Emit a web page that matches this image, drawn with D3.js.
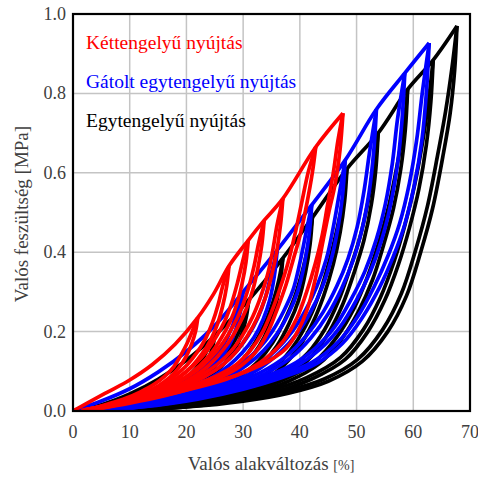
<!DOCTYPE html>
<html>
<head>
<meta charset="utf-8">
<script src="https://cdn.jsdelivr.net/npm/d3@7"></script>
<style>
  body { margin: 0; background: #fff; }
</style>
</head>
<body>
<svg id="chart" width="478" height="477"></svg>
<script>
(function() {
    'use strict';

    var serif = "'Liberation Serif'";

    var xTicks = [0, 10, 20, 30, 40, 50, 60, 70];
    var yTicks = [0.0, 0.2, 0.4, 0.6, 0.8, 1.0];

    var seriesNames = ["Kéttengelyű nyújtás", "Gátolt egytengelyű nyújtás", "Egytengelyű nyújtás"];
    var seriesColors = ["#ff0000", "#0000ff", "#000000"];

    // virgin loading curves [strain %, stress MPa]
    var blackEnvelope = [[0,0],[5,0.016],[10,0.043],[15,0.08],[20,0.128],[25,0.19],[31,0.28],[37,0.385],[42.2,0.487],[48.3,0.61],[53.8,0.70],[59,0.81],[63.5,0.884],[67.7,0.97]];
    var blueEnvelope = [[0,0],[5,0.025],[10,0.056],[15,0.098],[20,0.15],[25,0.215],[30,0.3],[36,0.405],[42.1,0.519],[48,0.632],[53.5,0.76],[58.5,0.851],[62.8,0.927]];
    var redEnvelope = [[0,0],[2.5,0.02],[6,0.047],[10,0.078],[14,0.117],[18,0.168],[22,0.235],[24.8,0.295],[27.5,0.365],[30.9,0.43],[33.7,0.48],[37,0.535],[42.8,0.665],[47.6,0.75]];

    // unloading curves, one per cycle peak
    var blackUnload = [
        [[25,0.19],[24.6,0.16],[23.8,0.13],[22.4,0.1],[20.5,0.075],[18,0.053],[15,0.035],[11.5,0.02],[7.5,0.009],[3.5,0.002]],
        [[31,0.28],[30.6,0.24],[29.8,0.195],[28.5,0.155],[26.7,0.12],[24.5,0.09],[21.8,0.063],[18.5,0.042],[14.5,0.025],[10,0.012],[5,0.003]],
        [[37,0.385],[36.6,0.33],[35.8,0.27],[34.6,0.215],[32.9,0.165],[30.8,0.125],[28.3,0.09],[25.3,0.063],[21.5,0.04],[17,0.022],[11,0.008],[5,0.001]],
        [[42.2,0.487],[41.8,0.42],[41,0.35],[39.8,0.28],[38.1,0.22],[36,0.165],[33.5,0.12],[30.5,0.085],[27,0.055],[22.5,0.033],[17,0.016],[10,0.004]],
        [[48.3,0.61],[47.9,0.53],[47.1,0.45],[45.9,0.37],[44.2,0.29],[42.2,0.22],[39.8,0.16],[36.8,0.11],[33,0.072],[28.5,0.045],[23,0.025],[16,0.01],[9,0.002]],
        [[53.8,0.70],[53.4,0.61],[52.6,0.52],[51.3,0.43],[49.6,0.35],[47.6,0.27],[45.2,0.2],[42.2,0.14],[38.5,0.095],[33.5,0.06],[27.5,0.033],[20,0.014],[12,0.003]],
        [[59,0.81],[58.6,0.71],[57.8,0.61],[56.5,0.51],[54.8,0.42],[52.8,0.33],[50.3,0.25],[47.3,0.18],[43.5,0.12],[38,0.075],[31,0.04],[24,0.02],[15,0.006],[8,0.001]],
        [[63.5,0.884],[63.1,0.78],[62.3,0.67],[61,0.56],[59.3,0.46],[57.4,0.37],[55,0.28],[52,0.2],[48,0.13],[42,0.08],[35,0.045],[27,0.022],[18,0.008],[10,0.002]],
        [[67.7,0.97],[67.3,0.86],[66.5,0.75],[65.2,0.64],[63.4,0.51],[61.3,0.40],[58.8,0.29],[55.5,0.2],[51,0.125],[45,0.075],[38,0.045],[30,0.025],[20,0.01],[10,0.002]]
    ];
    // reloading curves, from the bottom back up to each peak
    var blackReload = [
        [[3.5,0.002],[7,0.01],[11,0.022],[14.5,0.038],[17.3,0.057],[19.7,0.08],[21.6,0.106],[23,0.135],[24,0.163],[25,0.19]],
        [[5,0.003],[9.5,0.014],[14,0.028],[17.8,0.046],[21,0.068],[23.7,0.096],[25.9,0.126],[27.8,0.16],[29.3,0.2],[30.3,0.24],[31,0.28]],
        [[5,0.001],[10.5,0.01],[16.5,0.025],[21,0.044],[24.6,0.068],[27.5,0.096],[30,0.131],[32.1,0.172],[33.9,0.222],[35.3,0.276],[36.3,0.33],[37,0.385]],
        [[10,0.004],[16.5,0.018],[22,0.036],[26.3,0.06],[29.7,0.09],[32.7,0.126],[35.2,0.172],[37.3,0.228],[39.1,0.288],[40.5,0.356],[41.5,0.42],[42.2,0.487]],
        [[9,0.002],[15.5,0.012],[22.5,0.028],[28,0.049],[32.3,0.076],[36,0.115],[39,0.166],[41.5,0.228],[43.5,0.298],[45.2,0.378],[46.5,0.455],[47.6,0.532],[48.3,0.61]],
        [[12,0.003],[19.5,0.016],[27,0.036],[32.8,0.064],[37.7,0.1],[41.4,0.146],[44.4,0.206],[46.8,0.277],[48.8,0.357],[50.6,0.438],[52,0.525],[53.1,0.612],[53.8,0.70]],
        [[8,0.001],[14.5,0.008],[23.5,0.023],[30.3,0.043],[37.2,0.079],[42.7,0.125],[46.5,0.186],[49.5,0.257],[51.9,0.337],[54,0.428],[55.7,0.518],[57.1,0.615],[58.3,0.712],[59,0.81]],
        [[10,0.002],[17.5,0.01],[26.3,0.025],[34.2,0.049],[41.2,0.084],[47.2,0.135],[51.2,0.205],[54.2,0.286],[56.6,0.376],[58.5,0.467],[60.2,0.567],[61.6,0.674],[62.7,0.782],[63.5,0.884]],
        [[10,0.002],[19.5,0.012],[29.3,0.028],[37.2,0.049],[44.2,0.08],[50.2,0.13],[54.6,0.205],[57.9,0.296],[60.4,0.405],[62.5,0.516],[64.3,0.645],[65.7,0.755],[66.8,0.862],[67.7,0.97]]
    ];

    var blueUnload = [
        [[30,0.3],[29.5,0.25],[28.7,0.205],[27.5,0.165],[25.9,0.132],[23.9,0.104],[21.5,0.08],[18.5,0.058],[15,0.038],[10.5,0.02],[5.5,0.007],[1.5,0.001]],
        [[36,0.405],[35.5,0.34],[34.7,0.28],[33.5,0.23],[31.9,0.185],[29.9,0.148],[27.5,0.115],[24.5,0.085],[21,0.06],[16.5,0.038],[11,0.018],[5,0.004]],
        [[42.1,0.519],[41.6,0.44],[40.8,0.37],[39.6,0.3],[38,0.245],[36,0.195],[33.6,0.152],[30.6,0.115],[27,0.083],[22.5,0.056],[17,0.033],[10.5,0.013],[4,0.002]],
        [[48,0.632],[47.5,0.54],[46.7,0.46],[45.5,0.38],[43.9,0.31],[41.9,0.25],[39.5,0.195],[36.5,0.148],[33,0.108],[28.5,0.075],[23,0.048],[16.5,0.026],[9,0.008]],
        [[53.5,0.76],[53,0.65],[52.2,0.55],[51,0.46],[49.4,0.38],[47.4,0.31],[45,0.245],[42,0.185],[38.5,0.135],[34,0.095],[28.5,0.063],[22,0.037],[14,0.015],[6,0.002]],
        [[58.5,0.851],[58,0.73],[57.2,0.62],[56,0.52],[54.4,0.43],[52.4,0.35],[50,0.28],[47,0.21],[43.5,0.155],[39,0.11],[33,0.075],[26,0.045],[18,0.022],[9,0.005]],
        [[62.8,0.927],[62.3,0.8],[61.5,0.68],[60.2,0.57],[58.5,0.47],[56.5,0.39],[54,0.31],[51,0.235],[47.5,0.17],[43,0.12],[37,0.085],[30,0.055],[22,0.03],[12,0.01],[4,0.001]]
    ];
    var blueReload = [
        [[1.5,0.001],[5,0.008],[10,0.022],[14.3,0.041],[17.7,0.062],[20.6,0.085],[23,0.11],[25,0.138],[26.7,0.171],[28,0.21],[29,0.254],[30,0.3]],
        [[5,0.004],[10.4,0.02],[15.8,0.041],[20.2,0.064],[23.7,0.09],[26.7,0.12],[29,0.153],[30.9,0.19],[32.6,0.235],[33.9,0.285],[34.9,0.343],[36,0.405]],
        [[4,0.002],[10,0.015],[16.3,0.036],[21.7,0.06],[26.2,0.088],[29.8,0.12],[32.8,0.158],[35.1,0.2],[37.1,0.25],[38.8,0.305],[40,0.373],[41,0.443],[42.1,0.519]],
        [[9,0.008],[15.8,0.028],[22.2,0.051],[27.7,0.079],[32.2,0.112],[35.7,0.152],[38.6,0.199],[41,0.254],[43,0.314],[44.7,0.384],[45.9,0.463],[46.9,0.543],[48,0.632]],
        [[6,0.002],[13.3,0.017],[21.2,0.04],[27.7,0.066],[33.2,0.098],[37.6,0.138],[41.1,0.189],[44.1,0.249],[46.5,0.314],[48.5,0.384],[50.1,0.463],[51.3,0.553],[52.3,0.653],[53.5,0.76]],
        [[9,0.005],[17.2,0.024],[25.2,0.048],[32.2,0.078],[38.2,0.113],[42.7,0.158],[46.2,0.213],[49.1,0.283],[51.5,0.353],[53.5,0.433],[55.1,0.523],[56.3,0.623],[57.2,0.733],[58.5,0.851]],
        [[4,0.001],[11.2,0.012],[21.2,0.033],[29.2,0.058],[36.2,0.088],[42.2,0.123],[46.7,0.173],[50.2,0.238],[53.1,0.313],[55.6,0.393],[57.6,0.473],[59.3,0.573],[60.6,0.683],[61.6,0.803],[62.8,0.927]]
    ];

    var redUnload = [
        [[22,0.235],[21.6,0.2],[20.9,0.168],[19.9,0.136],[18.6,0.108],[17,0.084],[15,0.063],[12.6,0.045],[9.8,0.029],[6.6,0.016],[3.2,0.005]],
        [[27.5,0.365],[27.1,0.315],[26.4,0.265],[25.5,0.22],[24.3,0.18],[22.8,0.145],[21,0.113],[18.9,0.086],[16.4,0.063],[13.4,0.043],[9.9,0.026],[5.9,0.011],[1.9,0.002]],
        [[30.9,0.43],[30.5,0.375],[29.8,0.32],[28.9,0.27],[27.7,0.225],[26.2,0.185],[24.5,0.148],[22.4,0.115],[20,0.087],[17,0.062],[13.5,0.04],[9.5,0.022],[5,0.008],[1.5,0.001]],
        [[33.7,0.48],[33.3,0.42],[32.6,0.36],[31.7,0.305],[30.5,0.255],[29,0.21],[27.3,0.17],[25.2,0.133],[22.7,0.1],[19.7,0.073],[16,0.05],[11.5,0.03],[6.5,0.013],[2,0.002]],
        [[37,0.535],[36.6,0.47],[35.9,0.4],[35,0.34],[33.9,0.285],[32.5,0.235],[30.8,0.19],[28.8,0.15],[26.3,0.115],[23.3,0.087],[19.5,0.062],[15,0.04],[10,0.022],[4.5,0.006]],
        [[42.8,0.665],[42.2,0.6],[41.2,0.52],[40,0.44],[38.8,0.38],[37.6,0.32],[36.1,0.26],[34.4,0.2],[32.3,0.15],[29.5,0.113],[26,0.085],[21.5,0.06],[16,0.038],[10,0.02],[4,0.005]],
        [[47.6,0.75],[47.1,0.66],[46.2,0.57],[45.1,0.5],[44.1,0.43],[43,0.35],[41.4,0.26],[39.6,0.2],[37.6,0.158],[35,0.13],[32,0.108],[28.5,0.088],[23.5,0.068],[17,0.045],[9,0.02],[2,0.003]]
    ];
    var redReload = [
        [[3.2,0.005],[6.3,0.018],[9.3,0.032],[12,0.049],[14.3,0.067],[16.2,0.088],[17.8,0.112],[19,0.14],[20.1,0.17],[21,0.2],[22,0.235]],
        [[1.9,0.002],[5.5,0.013],[9.3,0.029],[12.7,0.046],[15.6,0.066],[18,0.089],[20.1,0.116],[21.9,0.148],[23.4,0.183],[24.6,0.223],[25.6,0.268],[26.4,0.315],[27.5,0.365]],
        [[1.5,0.001],[4.6,0.01],[8.9,0.025],[12.8,0.043],[16.2,0.065],[19.1,0.09],[21.5,0.118],[23.6,0.151],[25.3,0.188],[26.8,0.228],[28,0.273],[29,0.323],[29.9,0.376],[30.9,0.43]],
        [[2,0.002],[6,0.015],[10.8,0.033],[15.2,0.053],[18.9,0.076],[21.9,0.103],[24.4,0.136],[26.5,0.173],[28.2,0.213],[29.7,0.258],[30.9,0.308],[31.9,0.363],[32.7,0.42],[33.7,0.48]],
        [[4.5,0.006],[9.3,0.025],[14.2,0.043],[18.7,0.065],[22.5,0.09],[25.5,0.118],[28,0.153],[30,0.193],[31.7,0.238],[33.1,0.288],[34.3,0.343],[35.2,0.403],[36,0.47],[37,0.535]],
        [[4,0.005],[9.3,0.023],[15.2,0.041],[20.7,0.063],[25.2,0.088],[28.7,0.116],[31.3,0.153],[33.4,0.198],[35.1,0.253],[36.6,0.313],[37.9,0.373],[39.1,0.443],[40.3,0.523],[41.5,0.603],[42.8,0.665]],
        [[2,0.003],[8,0.018],[15.5,0.038],[21.5,0.058],[27,0.08],[31,0.105],[34.2,0.135],[37,0.175],[39.5,0.235],[41.2,0.3],[42.7,0.37],[43.9,0.44],[44.9,0.52],[45.9,0.6],[46.7,0.68],[47.6,0.75]]
    ];

    var left = 73, top = 14, right = 470, bottom = 411;

    var svg = d3.select("#chart");

    var x = d3.scaleLinear().domain([0, 70]).range([left, right]);
    var y = d3.scaleLinear().domain([0, 1]).range([bottom, top]);

    // grid
    svg.append("g").selectAll("line")
        .data(xTicks.slice(1, -1))
        .enter().append("line")
        .attr("x1", function(d) { return x(d); })
        .attr("x2", function(d) { return x(d); })
        .attr("y1", top).attr("y2", bottom)
        .attr("stroke", "#c4c4c4").attr("stroke-width", 1.5);
    svg.append("g").selectAll("line")
        .data(yTicks.slice(1, -1))
        .enter().append("line")
        .attr("y1", function(d) { return y(d); })
        .attr("y2", function(d) { return y(d); })
        .attr("x1", left).attr("x2", right)
        .attr("stroke", "#c4c4c4").attr("stroke-width", 1.5);

    svg.append("clipPath").attr("id", "plotclip")
        .append("rect")
        .attr("x", left).attr("y", top - 6)
        .attr("width", right - left).attr("height", bottom - top + 6);

    var line = d3.line()
        .x(function(d) { return x(d[0]); })
        .y(function(d) { return y(d[1]); })
        .curve(d3.curveCatmullRom.alpha(0.5));

    var plot = svg.append("g").attr("clip-path", "url(#plotclip)");

    var groups = [
        { env: blackEnvelope, loops: blackUnload.concat(blackReload), color: seriesColors[2] },
        { env: blueEnvelope, loops: blueUnload.concat(blueReload), color: seriesColors[1] },
        { env: redEnvelope, loops: redUnload.concat(redReload), color: seriesColors[0] }
    ];

    groups.forEach(function(g) {
        var gr = plot.append("g")
            .attr("fill", "none")
            .attr("stroke", g.color)
            .attr("stroke-width", 3.7)
            .attr("stroke-linejoin", "round");
        gr.append("path").attr("d", line(g.env));
        gr.selectAll("path.u")
            .data(g.loops)
            .enter().append("path")
            .attr("class", "u")
            .attr("d", function(d) { return line(d); });
    });

    // frame
    svg.append("rect")
        .attr("x", left).attr("y", top)
        .attr("width", right - left).attr("height", bottom - top)
        .attr("fill", "none").attr("stroke", "#000").attr("stroke-width", 2.2);

    // tick labels
    svg.append("g").selectAll("text")
        .data(xTicks)
        .enter().append("text")
        .attr("x", function(d) { return x(d); })
        .attr("y", 438)
        .attr("text-anchor", "middle")
        .attr("font-size", 18)
        .style("font-family", serif)
        .attr("fill", "#404040")
        .text(function(d) { return d; });
    svg.append("g").selectAll("text")
        .data(yTicks)
        .enter().append("text")
        .attr("x", 66)
        .attr("y", function(d) { return y(d) + 6; })
        .attr("text-anchor", "end")
        .attr("font-size", 18)
        .style("font-family", serif)
        .attr("fill", "#404040")
        .text(function(d) { return d3.format(".1f")(d); });

    // axis titles
    var xt = svg.append("text")
        .attr("x", 271).attr("y", 470)
        .attr("text-anchor", "middle")
        .attr("font-size", 19)
        .style("font-family", serif)
        .attr("fill", "#404040");
    xt.append("tspan").text("Valós alakváltozás ");
    xt.append("tspan").attr("font-size", 14).text("[%]");

    svg.append("text")
        .attr("transform", "translate(28,214) rotate(-90)")
        .attr("text-anchor", "middle")
        .attr("font-size", 19)
        .style("font-family", serif)
        .attr("fill", "#404040")
        .text("Valós feszültség [MPa]");

    // legend
    svg.append("g").selectAll("text")
        .data(seriesNames)
        .enter().append("text")
        .attr("x", 86)
        .attr("y", function(d, i) { return 49 + i * 39; })
        .attr("font-size", 19.5)
        .style("font-family", serif)
        .attr("fill", function(d, i) { return seriesColors[i]; })
        .text(function(d) { return d; });
})();
</script>
</body>
</html>
